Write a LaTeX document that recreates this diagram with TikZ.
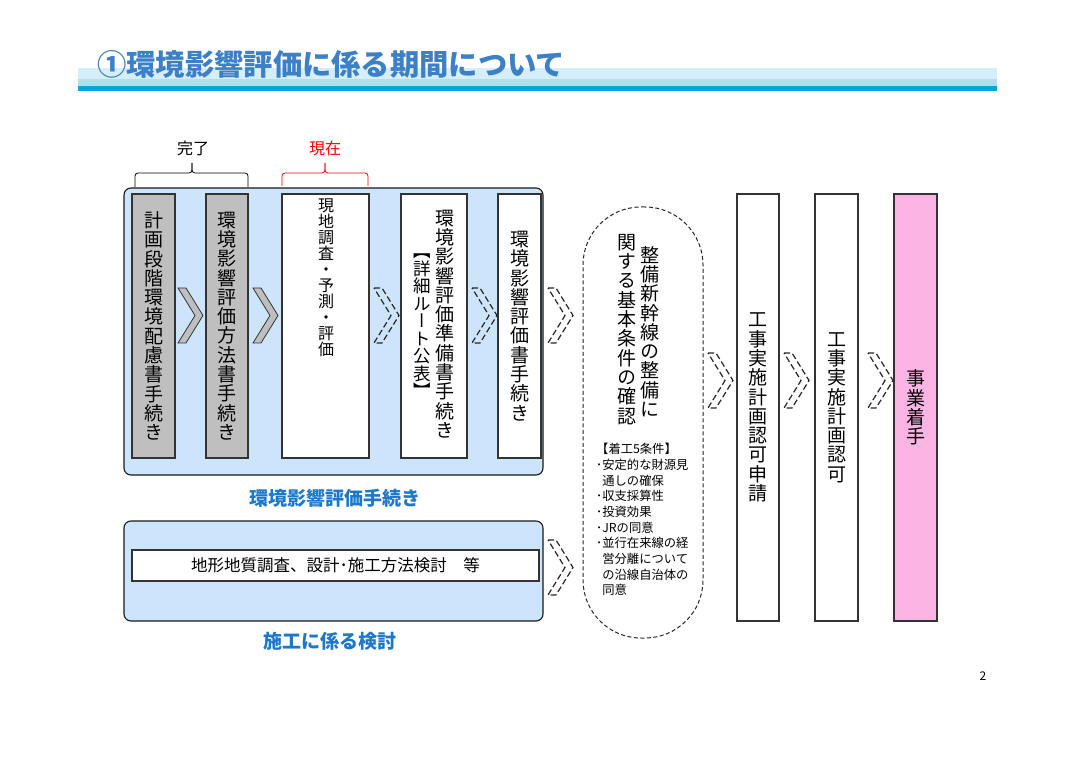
\documentclass[tikz,border=0pt]{standalone}
\usepackage{fontspec}
\setmainfont{Noto Sans CJK JP}
\newfontfamily\tatefont[RawFeature=+vert]{Noto Sans CJK JP}
\usetikzlibrary{positioning}
\lineskiplimit=-20pt

\definecolor{titleblue}{RGB}{60,128,200}
\definecolor{labelblue}{RGB}{28,120,205}
\definecolor{panelblue}{RGB}{204,229,252}
\definecolor{bandlight}{RGB}{214,238,250}
\definecolor{bandmid}{RGB}{178,222,240}
\definecolor{bandcyan}{RGB}{0,168,216}
\definecolor{startpink}{RGB}{251,180,228}

\begin{document}
\begin{tikzpicture}[x=1pt,y=-1pt,
  box/.style={draw=black!80,line width=1.1pt,inner sep=0pt},
  greybox/.style={box,fill=black!25},
  whitebox/.style={box,fill=white},
  panel/.style={box,draw=black!90,fill=panelblue,rounded corners=7pt},
  tate/.style={font=\tatefont\fontsize{19}{19.3}\selectfont,
    align=center,inner sep=0pt},
  tagline/.style={font=\fontsize{19}{20}\selectfont\bfseries,text=labelblue,inner sep=0pt},
  chev/.pic={\path[pic actions] (0,0) -- (8,0) -- (25,27.5) -- (8,55) -- (0,55)
    -- (17,27.5) -- cycle;},
  solidchev/.style={draw=black!80,fill=black!25,line width=0.8pt},
  dashchev/.style={draw=black!85,line width=1.2pt,dash pattern=on 6pt off 3pt}]
\useasboundingbox[fill=white] (0,0) rectangle (1074,759);

% title band
\fill[bandlight] (78,68) rectangle (997,79);
\fill[bandmid] (78,79) rectangle (997,86);
\fill[bandcyan] (78,86) rectangle (997,91);
\node[anchor=west,inner sep=0pt,text=titleblue,
  font=\fontsize{29.3}{30}\selectfont\bfseries] (title) at (97,64)
  {①環境影響評価に係る期間について};

% done / now
\node[font=\fontsize{16}{17}\selectfont] (done) at (193,148) {完了};
\node[font=\fontsize{16}{17}\selectfont,text=red] (now) at (325,148) {現在};
\draw[line width=0.8pt,rounded corners=3pt] (135,187) -- (135,173) -- (192,173) -- (192,163);
\draw[line width=0.8pt,rounded corners=3pt] (248,187) -- (248,173) -- (192,173) -- (192,163);
\draw[red,line width=0.8pt,rounded corners=3pt] (282,186) -- (282,173) -- (325,173) -- (325,163);
\draw[red,line width=0.8pt,rounded corners=3pt] (368,186) -- (368,173) -- (325,173) -- (325,163);

% environmental assessment panel
\node[panel,minimum width=419,minimum height=287] (eia) at (333.5,331.5) {};
\node[greybox,minimum width=43,minimum height=264] (plan) at (153.5,326) {};
\node[greybox,minimum width=42,minimum height=264] (method) at (227,326) {};
\node[whitebox,minimum width=87,minimum height=264] (survey) at (325.5,326) {};
\node[whitebox,minimum width=66,minimum height=264] (prep) at (434,326) {};
\node[whitebox,minimum width=43,minimum height=264] (report) at (519.5,326) {};

\node[tate] (plantxt) at (plan) {計\\画\\段\\階\\環\\境\\配\\慮\\書\\手\\続\\き};
\node[tate] (methodtxt) at (method) {環\\境\\影\\響\\評\\価\\方\\法\\書\\手\\続\\き};
\node[tate,font=\tatefont\fontsize{16}{16}\selectfont,
  anchor=north] (surveytxt) at (326,199) {現\\地\\調\\査\\・\\予\\測\\・\\評\\価};
\node[tate] (preptxt) at (445,324) {環\\境\\影\\響\\評\\価\\準\\備\\書\\手\\続\\き};
\node[tate,font=\tatefont\fontsize{17.5}{17.5}\selectfont]
  (routetxt) at (422,326) {【\\詳\\細\\ル\\ー\\ト\\公\\表\\】};
\node[tate] (reporttxt) at (report) {環\\境\\影\\響\\評\\価\\書\\手\\続\\き};

\pic[solidchev] at (178,288) {chev};
\pic[solidchev] at (253,288) {chev};
\pic[dashchev] at (374,288) {chev};
\pic[dashchev] at (472,288) {chev};
\pic[dashchev] at (548,288) {chev};

\node[tagline] (eialabel) at (335,498) {環境影響評価手続き};

% construction study panel
\node[panel,minimum width=419,minimum height=100] (study) at (333.5,571) {};
\node[whitebox,minimum width=407,minimum height=31,
  font=\fontsize{16.5}{17}\selectfont] (studytxt) at (335.5,565.5)
  {地形地質調査、設計･施工方法検討　等};
\pic[dashchev] at (548,540) {chev};
\node[tagline] (studylabel) at (330,641) {施工に係る検討};

% basic conditions
\node[draw=black!85,line width=1pt,dash pattern=on 4pt off 2.5pt,rounded corners=58pt,
  minimum width=120,minimum height=431,inner sep=0pt] (basic) at (643,422.5) {};
\node[tate,anchor=north] (basicR) at (650,246) {整\\備\\新\\幹\\線\\の\\整\\備\\に};
\node[tate,anchor=north] (basicL) at (627,234) {関\\す\\る\\基\\本\\条\\件\\の\\確\\認};
\node[anchor=north west,align=left,inner sep=0pt,
  font=\fontsize{12.3}{15.7}\selectfont] (fivecond) at (596,443)
  {【着工5条件】\\
   ･安定的な財源見\\
   \hspace{0.5em}通しの確保\\
   ･収支採算性\\
   ･投資効果\\
   ･JRの同意\\
   ･並行在来線の経\\
   \hspace{0.5em}営分離について\\
   \hspace{0.5em}の沿線自治体の\\
   \hspace{0.5em}同意};

% construction plan
\pic[dashchev] at (708,353) {chev};
\node[whitebox,minimum width=42,minimum height=427] (appl) at (758,407.5) {};
\node[tate] (appltxt) at (appl) {工\\事\\実\\施\\計\\画\\認\\可\\申\\請};
\pic[dashchev] at (784,353) {chev};
\node[whitebox,minimum width=43,minimum height=427] (perm) at (836.5,407.5) {};
\node[tate] (permtxt) at (perm) {工\\事\\実\\施\\計\\画\\認\\可};
\pic[dashchev] at (868,353) {chev};
\node[box,fill=startpink,minimum width=43,minimum height=427] (start) at (915.5,407.5) {};
\node[tate] (starttxt) at (start) {事\\業\\着\\手};

\node[font=\fontsize{12}{13}\selectfont] (page) at (983,676) {2};
\end{tikzpicture}
\end{document}
